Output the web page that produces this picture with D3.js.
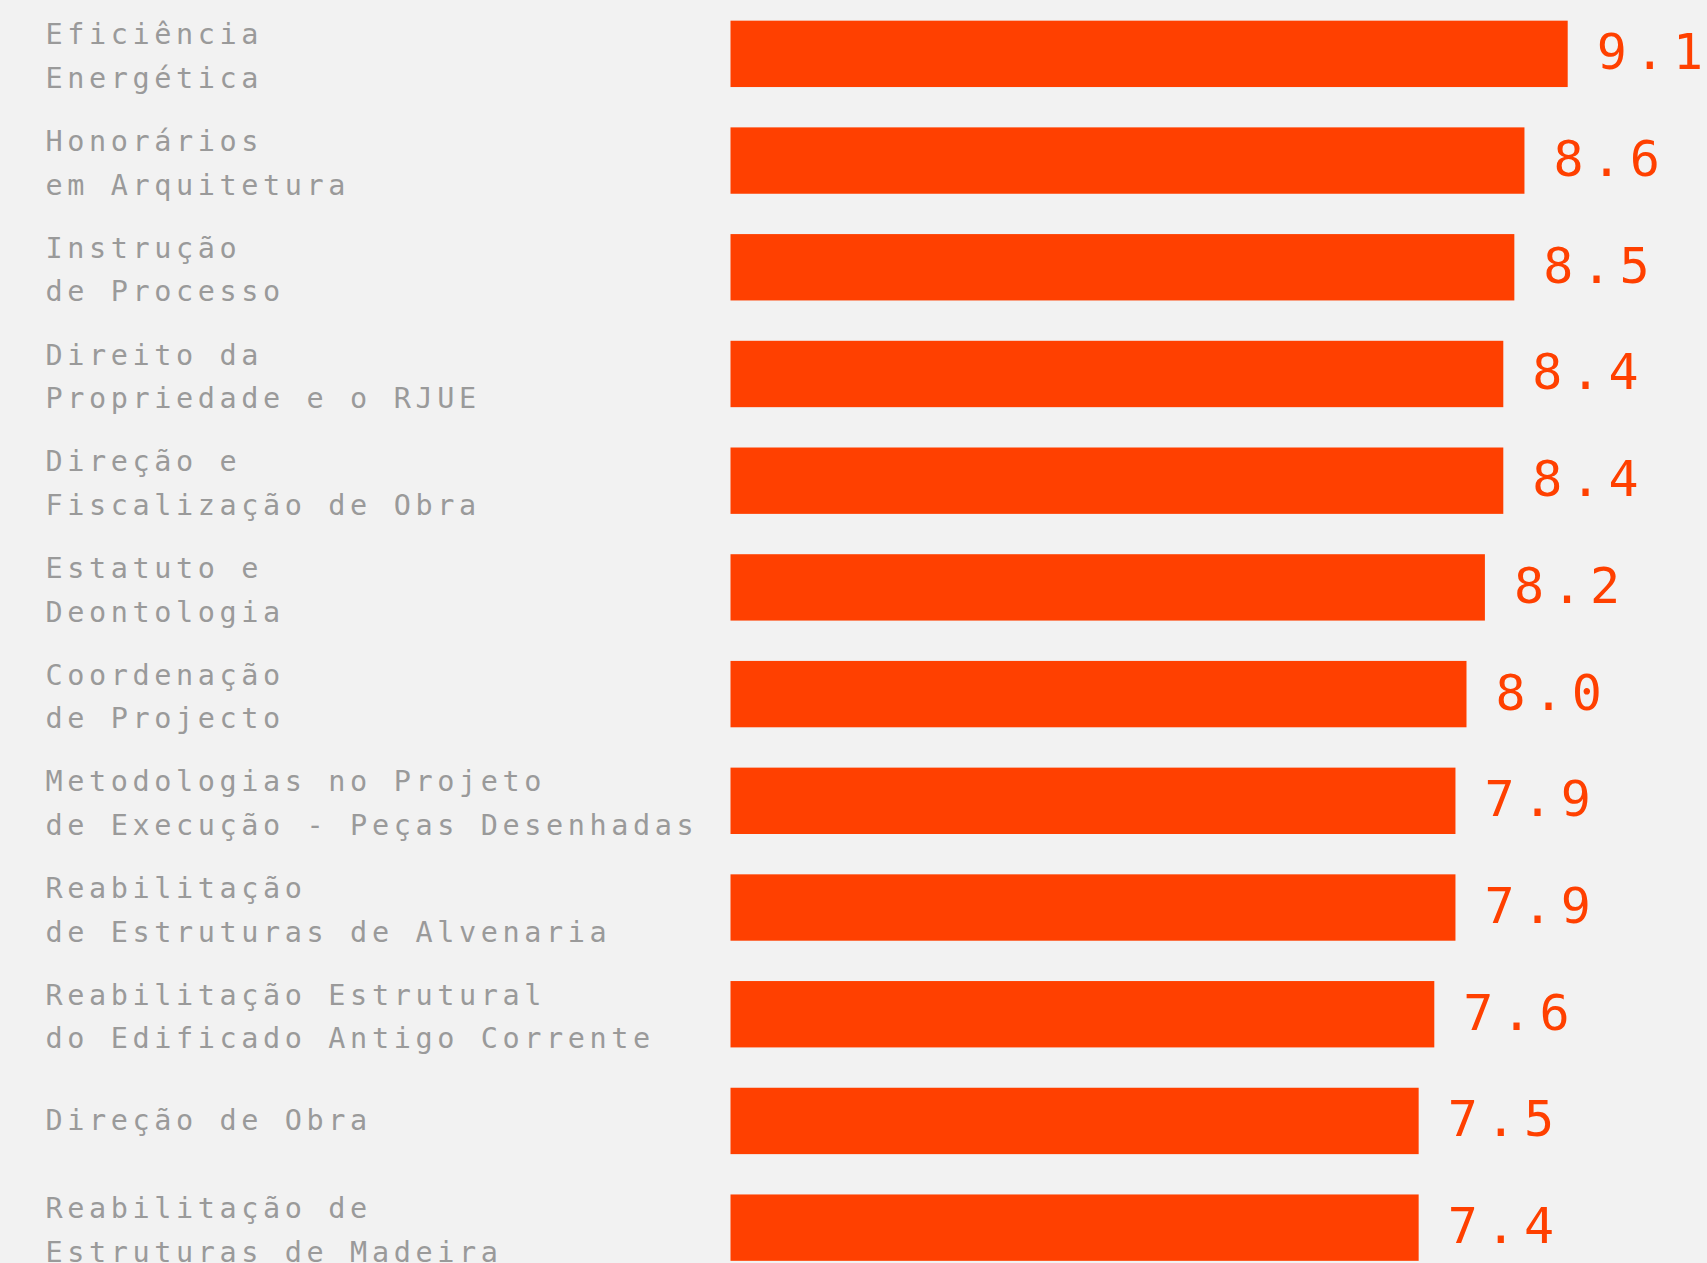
<!DOCTYPE html>
<html>
<head>
<meta charset="utf-8">
<script src="https://cdn.jsdelivr.net/npm/d3@7"></script>
<style>
  html, body { margin: 0; padding: 0; background: #f2f2f2; overflow: hidden; }
  svg { display: block; }
</style>
</head>
<body>
<svg id="chart" width="1707" height="1263"></svg>
<script>
const categories = [
  "Eficiência\nEnergética",
  "Honorários\nem Arquitetura",
  "Instrução\nde Processo",
  "Direito da\nPropriedade e o RJUE",
  "Direção e\nFiscalização de Obra",
  "Estatuto e\nDeontologia",
  "Coordenação\nde Projecto",
  "Metodologias no Projeto\nde Execução - Peças Desenhadas",
  "Reabilitação\nde Estruturas de Alvenaria",
  "Reabilitação Estrutural\ndo Edificado Antigo Corrente",
  "Direção de Obra",
  "Reabilitação de\nEstruturas de Madeira"
];
// bar lengths
const scores = [9.1, 8.63, 8.52, 8.4, 8.4, 8.2, 8.0, 7.88, 7.88, 7.65, 7.48, 7.48];
// value labels as printed
const scoreLabels = ["9.1", "8.6", "8.5", "8.4", "8.4", "8.2", "8.0", "7.9", "7.9", "7.6", "7.5", "7.4"];

const data = categories.map((c, i) => ({ cat: c, v: scores[i], lab: scoreLabels[i] }));

const svg = d3.select("#chart");
svg.append("rect").attr("width", 1707).attr("height", 1263).attr("fill", "#f2f2f2");

const x = d3.scaleLinear().domain([0, 10]).range([730.5, 1650.5]);
const y = d3.scaleBand().domain(categories).range([0.5, 1281]).paddingInner(0.378).paddingOuter(0.189);

const ORANGE = "#ff4000";
const GRAY = "#9a9a9a";
const FONT = "'DejaVu Sans Mono', monospace";

const rows = svg.selectAll("g.row").data(data).join("g").attr("class", "row");

rows.append("rect")
  .attr("x", x(0))
  .attr("y", d => y(d.cat))
  .attr("width", d => x(d.v) - x(0))
  .attr("height", y.bandwidth())
  .attr("fill", ORANGE);

const vals = rows.append("text")
  .attr("x", d => x(d.v) + 29)
  .attr("y", d => y(d.cat) + 48.6)
  .attr("fill", ORANGE)
  .style("font-family", FONT)
  .style("font-size", "50px");
vals.append("tspan").style("letter-spacing", "8px").text(d => d.lab.slice(0, -1));
vals.append("tspan").style("letter-spacing", "0px").text(d => d.lab.slice(-1));

const labels = rows.append("text")
  .attr("fill", GRAY)
  .style("font-family", FONT)
  .style("font-size", "28.5px")
  .style("letter-spacing", "4.6px");

labels.each(function(d) {
  const lines = d.cat.split("\n");
  const t = d3.select(this);
  const top = y(d.cat);
  if (lines.length === 1) {
    t.append("tspan").attr("x", 45.5).attr("y", top + 42).text(lines[0]);
  } else {
    lines.forEach((ln, i) => {
      t.append("tspan").attr("x", 45.5).attr("y", top + 23.8 + i * 43.5).text(ln);
    });
  }
});
</script>
</body>
</html>
